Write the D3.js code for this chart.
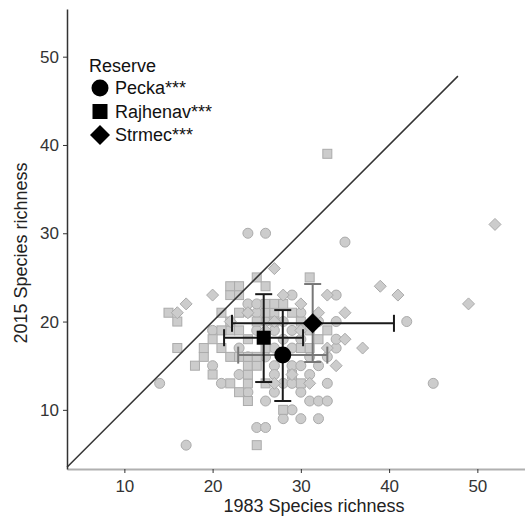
<!DOCTYPE html>
<html>
<head>
<meta charset="utf-8">
<script src="https://cdn.jsdelivr.net/npm/d3@7"></script>
<style>
  html, body { margin: 0; padding: 0; background: #fff; }
  svg { display: block; font-family: "Liberation Sans", Arial, sans-serif; }
</style>
</head>
<body>
<svg id="chart" width="525" height="517"></svg>
<script>
// ---------------- data ----------------
const categories = ["Pecka", "Rajhenav", "Strmec"];
const legendLabels = ["Pecka***", "Rajhenav***", "Strmec***"];
const legendTitle = "Reserve";
const xTitle = "1983 Species richness";
const yTitle = "2015 Species richness";
const xTicks = [10, 20, 30, 40, 50];
const yTicks = [10, 20, 30, 40, 50];

// individual sites (1983, 2015)
const peckaX = [17,25,26,28,30,32,29,26,31,32,33,24,27,30,14,21,28,29,33,45,23,20,27,29,30,32,24,26,31,33,23,27,29,34,20,28,30,34,25,27,29,34,42,24,25,24,25,29,34,35,24,26,27,31,28,26,32,30];
const peckaY = [6,8,8,9,9,9,10,11,11,11,11,12,12,12,13,13,13,13,13,13,14,15,15,15,15,15,16,16,16,16,17,17,17,17,19,18,18,18,19,19,19,20,20,21,21,22,22,23,23,29,30,30,14,14,20,20,20,21];

const rajhenavX = [25,28,24,23,22,24,30,20,24,18,24,25,16,19,22,24,25,19,21,26,30,22,23,22,32,33,31,26,24,21,15,16,26,27,29,26,27,28,22,23,22,23,26,25,31,33,27,30,21,23,28,29,26,25,23,20,31];
const rajhenavY = [6,10,11,12,13,13,13,14,14,15,15,15,17,16,16,16,16,17,17,17,17,19,19,20,18,19,19,18,18,21,21,20,21,21,21,22,22,22,23,23,24,24,24,25,25,39,20,20,19,21,16,14,13,20,16,18,17];

const strmecX = [16,17,20,27,33,39,41,49,52,35,37,34,27,31,27,30,32,22,24,28,29,33,30,26,35];
const strmecY = [21,22,23,26,23,24,23,22,31,18,17,15,13,13,20,19,21,20,21,23,14,17,22,19,21];

// reserve means with error bars
const meanX = [27.95, 25.79, 31.34];
const meanY = [16.2, 18.17, 19.8];
const xErrLow = [22.9, 21.3, 22.2];
const xErrHigh = [33.0, 30.25, 40.55];
const yErrLow = [11.0, 13.15, 15.42];
const yErrHigh = [21.3, 23.1, 24.25];

// 1:1 reference line
const refLine = [3.5, 47.8];

// ---------------- drawing ----------------
const svg = d3.select("#chart");
const x = d3.scaleLinear().domain([3.5, 55.4]).range([67, 525]);
const y = d3.scaleLinear().domain([3.3, 55.4]).range([469, 9]);

const siteSeries = [
  {name: categories[0], xs: peckaX, ys: peckaY},
  {name: categories[1], xs: rajhenavX, ys: rajhenavY},
  {name: categories[2], xs: strmecX, ys: strmecY}
];

function drawShape(sel, name, size) {
  // size: characteristic width in px
  if (name === "Pecka") {
    sel.append("circle").attr("r", size / 2);
  } else if (name === "Rajhenav") {
    sel.append("rect").attr("x", -size / 2).attr("y", -size / 2)
      .attr("width", size).attr("height", size);
  } else {
    const s = size / 2;
    sel.append("path").attr("d", `M0,${-s}L${s},0L0,${s}L${-s},0Z`);
  }
}

// gray site points
const pts = svg.append("g").attr("class", "sites");
const sizesGray = {Pecka: 10, Rajhenav: 9, Strmec: 12};
siteSeries.forEach(s => {
  s.xs.forEach((vx, i) => {
    const g = pts.append("g")
      .attr("transform", `translate(${x(vx)},${y(s.ys[i])})`)
      .attr("fill", "#cccccc").attr("stroke", "#ababab").attr("stroke-width", 1);
    drawShape(g, s.name, sizesGray[s.name]);
  });
});

// axes
const xAxis = svg.append("g").attr("transform", `translate(0,${y.range()[0]})`)
  .call(d3.axisBottom(x).tickValues(xTicks).tickSize(4).tickPadding(7).tickSizeOuter(0));
xAxis.select(".domain").attr("stroke", "#b0b0b0").attr("stroke-width", 2);
xAxis.selectAll(".tick line").attr("stroke", "#333");
xAxis.selectAll(".tick text").attr("font-size", 17).attr("fill", "#333")
  .attr("font-family", "Liberation Sans, Arial, sans-serif");

const yAxis = svg.append("g").attr("transform", `translate(${x.range()[0]},0)`)
  .call(d3.axisLeft(y).tickValues(yTicks).tickSize(4).tickPadding(4).tickSizeOuter(0));
yAxis.select(".domain").attr("stroke", "#333").attr("stroke-width", 1.5);
yAxis.selectAll(".tick line").attr("stroke", "#333");
yAxis.selectAll(".tick text").attr("font-size", 17).attr("fill", "#333")
  .attr("font-family", "Liberation Sans, Arial, sans-serif");

// 1:1 line
svg.append("line")
  .attr("x1", x(refLine[0])).attr("y1", y(refLine[0]))
  .attr("x2", x(refLine[1])).attr("y2", y(refLine[1]))
  .attr("stroke", "#333").attr("stroke-width", 1.5);

// error bars
const cap = 8.5;
const eb = svg.append("g").attr("class", "errorbars").attr("stroke-width", 2).attr("fill", "none");
const hColor = ["#777", "#1a1a1a", "#1a1a1a"];
const vColor = ["#1a1a1a", "#1a1a1a", "#777"];
categories.forEach((c, i) => {
  // horizontal
  const hy = y(meanY[i]);
  eb.append("line").attr("x1", x(xErrLow[i])).attr("x2", x(xErrHigh[i])).attr("y1", hy).attr("y2", hy).attr("stroke", hColor[i]);
  [xErrLow[i], xErrHigh[i]].forEach(v => {
    eb.append("line").attr("x1", x(v)).attr("x2", x(v)).attr("y1", hy - cap).attr("y2", hy + cap).attr("stroke", hColor[i]);
  });
  // vertical
  const vx = x(meanX[i]);
  eb.append("line").attr("x1", vx).attr("x2", vx).attr("y1", y(yErrLow[i])).attr("y2", y(yErrHigh[i])).attr("stroke", vColor[i]);
  [yErrLow[i], yErrHigh[i]].forEach(v => {
    eb.append("line").attr("x1", vx - cap).attr("x2", vx + cap).attr("y1", y(v)).attr("y2", y(v)).attr("stroke", vColor[i]);
  });
});

// mean markers
const sizesMean = {Pecka: 17, Rajhenav: 14, Strmec: 20};
categories.forEach((c, i) => {
  const g = svg.append("g").attr("transform", `translate(${x(meanX[i])},${y(meanY[i])})`).attr("fill", "#000");
  drawShape(g, c, sizesMean[c]);
});

// axis titles
svg.append("text").attr("x", (x.range()[0] + x.range()[1]) / 2 + 18).attr("y", 512)
  .attr("text-anchor", "middle").attr("font-size", 18).attr("fill", "#222").text(xTitle);
svg.append("text").attr("transform", `translate(27,253) rotate(-90)`)
  .attr("text-anchor", "middle").attr("font-size", 18).attr("fill", "#222").text(yTitle);

// legend
const leg = svg.append("g").attr("transform", "translate(89,72)");
leg.append("text").attr("x", 0).attr("y", 0).attr("font-size", 18).attr("fill", "#111").text(legendTitle);
const sizesLeg = {Pecka: 17, Rajhenav: 15, Strmec: 20};
categories.forEach((c, i) => {
  const cy = 16 + i * 23.5;
  const g = leg.append("g").attr("transform", `translate(11,${cy})`).attr("fill", "#000");
  drawShape(g, c, sizesLeg[c]);
  leg.append("text").attr("x", 26).attr("y", cy + 6).attr("font-size", 18).attr("fill", "#111").text(legendLabels[i]);
});
</script>
</body>
</html>
